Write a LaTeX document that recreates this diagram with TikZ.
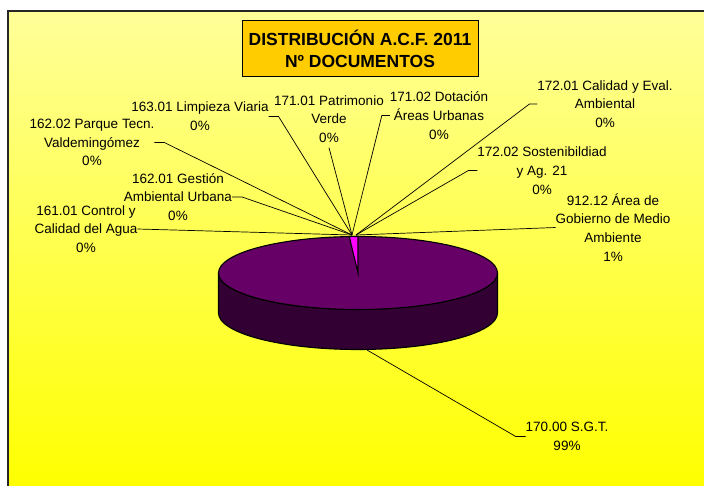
\documentclass[tikz,border=0pt]{standalone}
\usepackage{fontspec}
\setmainfont{Liberation Sans}
\definecolor{bgtop}{HTML}{FFFF99}
\definecolor{bgbot}{HTML}{FFFF00}
\definecolor{titlefill}{HTML}{FFCC00}
\definecolor{pietopc}{HTML}{660066}
\definecolor{piesidec}{HTML}{330033}
\definecolor{slicec}{HTML}{FF00FF}
\begin{document}
\begin{tikzpicture}[x=1pt,y=1pt,inner sep=0pt,outer sep=0pt,
lbl/.style={align=center,font=\fontsize{13.5}{18.7}\selectfont},
leader/.style={draw=black,line width=0.7pt},
piepart/.style={draw=black,line width=1.1pt}]

\useasboundingbox (0,0) rectangle (704,-486);
\clip (0,0) rectangle (704,-486);
\fill[white] (0,0) rectangle (704,-486);
\shade[top color=bgtop,bottom color=bgbot] (8,-11) rectangle (704,-486);
\draw[line width=2pt,draw=black!85] (8,-490) -- (8,-11) -- (710,-11);

\draw (360,-49) node[draw,fill=titlefill,line width=1pt,minimum width=236pt,minimum height=56pt,
  align=center,font=\fontsize{17.5}{22}\selectfont\bfseries] (title) {DISTRIBUCIÓN A.C.F. 2011\\Nº DOCUMENTOS};

\draw[piepart,fill=piesidec] (218.5,-273) -- (218.5,-313) arc[start angle=180,end angle=360,x radius=139.5,y radius=36.5]
  -- (497.5,-273) arc[start angle=0,end angle=-180,x radius=139.5,y radius=36.5] -- cycle;
\draw[piepart,fill=pietopc] (358,-273) ellipse[x radius=139.5,y radius=36.5];
\draw[piepart,fill=slicec] (358,-273) -- (358,-236.5) arc[start angle=90,end angle=93.6,x radius=139.5,y radius=36.5] -- cycle;

\coordinate (c0) at (352,-235);
\coordinate (c1) at (356,-235);
\coordinate (cbig) at (367,-350);

\draw (200,-116.5) node[lbl] (n16301) {163.01 Limpieza Viaria\\0\%};
\draw (92,-142.5) node[lbl] (n16202) {162.02 Parque Tecn.\\Valdemingómez\\0\%};
\draw (178,-197) node[lbl] (n16201) {162.01 Gestión\\Ambiental Urbana\\0\%};
\draw (86,-229) node[lbl] (n16101) {161.01 Control y\\Calidad del Agua\\0\%};
\draw (329,-119) node[lbl] (n17101) {171.01 Patrimonio\\Verde\\0\%};
\draw (439,-115.5) node[lbl] (n17102) {171.02 Dotación\\Áreas Urbanas\\0\%};
\draw (605,-104) node[lbl] (n17201) {172.01 Calidad y Eval.\\Ambiental\\0\%};
\draw (542,-170.5) node[lbl] (n17202) {172.02 Sostenibildiad\\y Ag. 21\\0\%};
\draw (613,-227.5) node[lbl] (n91212) {912.12 Área de\\Gobierno de Medio\\Ambiente\\1\%};
\draw (567,-436.5) node[lbl] (n17000) {170.00 S.G.T.\\99\%};

\draw[leader] (n16301.east) -- ++(10,0) -- (c0);
\draw[leader] (n16202.east) -- ++(10,0) -- (c0);
\draw[leader] (n16201.east) -- ++(10,0) -- (c0);
\draw[leader] (n16101.east) -- (c0);
\draw[leader] (n17101.south) ++(0,-5) -- (c0);
\draw[leader] (n17102.west) -- ++(-8,0) -- (c0);
\draw[leader] (n17201.west) -- ++(-8,0) -- (c1);
\draw[leader] (n17202.west) -- ++(-9,0) -- (c1);
\draw[leader] (n91212.west) -- (c1);
\draw[leader] (n17000.west) -- ++(-10,0) -- (cbig);
\end{tikzpicture}
\end{document}
